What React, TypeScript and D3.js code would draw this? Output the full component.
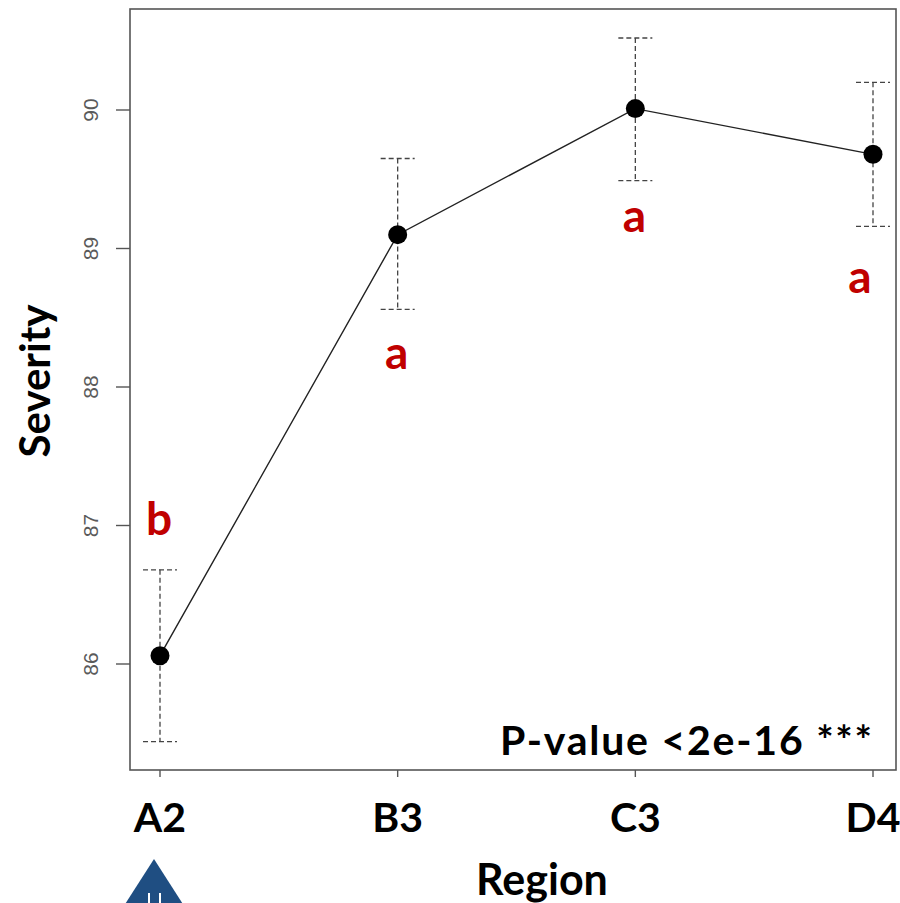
import React, { useEffect } from "react"
import * as d3 from "d3"

const regions = ["A2", "B3", "C3", "D4"]
const severity = [86.06, 89.1, 90.01, 89.68]
const upper = [86.68, 89.65, 90.52, 90.2]
const lower = [85.44, 88.56, 89.49, 89.16]
const groups = ["b", "a", "a", "a"]
// baseline of each group letter, in severity units
const groupAt = [86.93, 88.13, 89.12, 88.68]
const yTicks = [86, 87, 88, 89, 90]
const pText = "P-value <2e-16 ***"

const W = 900
const H = 903
const box = { left: 130, right: 896, top: 9, bottom: 770 }
const boldFont = "Lato, 'Open Sans', sans-serif"

export default function App() {
    useEffect(() => {
        document.body.style.margin = "0"
    }, [])

    const x = d3.scalePoint<string>().domain(regions).range([160, 873])
    const y = d3.scaleLinear().domain([86, 90]).range([664, 110])

    const pts = regions.map((r, i) => [x(r) as number, y(severity[i])] as [number, number])
    const line = d3.line()(pts) || ""

    const grey = "#444"
    const capW = 17

    return (
        <svg width={W} height={H} style={{ display: "block", background: "#fff" }}>
            {/* plot box */}
            <rect
                x={box.left}
                y={box.top}
                width={box.right - box.left}
                height={box.bottom - box.top}
                fill="none"
                stroke="#555"
                strokeWidth={1.6}
            />
            {/* y ticks */}
            {yTicks.map(t => (
                <g key={t}>
                    <line x1={box.left - 14} x2={box.left} y1={y(t)} y2={y(t)} stroke="#555" strokeWidth={1.4} />
                    <text
                        transform={`translate(98,${y(t)}) rotate(-90)`}
                        textAnchor="middle"
                        fontFamily="'Liberation Sans', Arial, sans-serif"
                        fontSize={21}
                        fill="#5a5a5a"
                    >
                        {t}
                    </text>
                </g>
            ))}
            {/* x ticks and labels */}
            {regions.map(r => (
                <g key={r}>
                    <line x1={x(r)} x2={x(r)} y1={box.bottom} y2={box.bottom + 7} stroke="#555" strokeWidth={1.4} />
                    <text
                        x={x(r)}
                        y={832}
                        textAnchor="middle"
                        fontFamily={boldFont}
                        fontWeight="bold"
                        fontSize={41}
                        fill="#000"
                    >
                        {r}
                    </text>
                </g>
            ))}
            <text x={542} y={895} textAnchor="middle" fontFamily={boldFont} fontWeight="bold" fontSize={43} fill="#000">
                Region
            </text>
            <text
                transform="translate(50,381) rotate(-90)"
                textAnchor="middle"
                fontFamily={boldFont}
                fontWeight="bold"
                fontSize={42}
                fill="#000"
            >
                Severity
            </text>

            {/* error bars */}
            {regions.map((r, i) => {
                const cx = x(r) as number
                return (
                    <g key={"e" + r} stroke={grey} strokeWidth={1.3} strokeDasharray="5,3" fill="none">
                        <line x1={cx} x2={cx} y1={y(upper[i])} y2={y(lower[i])} />
                        <line x1={cx - capW} x2={cx + capW} y1={y(upper[i])} y2={y(upper[i])} />
                        <line x1={cx - capW} x2={cx + capW} y1={y(lower[i])} y2={y(lower[i])} />
                    </g>
                )
            })}

            <path d={line} fill="none" stroke="#222" strokeWidth={1.4} />
            {pts.map((p, i) => (
                <circle key={"p" + i} cx={p[0]} cy={p[1]} r={9.5} fill="#000" />
            ))}

            {/* significance letters */}
            {groups.map((g, i) => (
                <text
                    key={"g" + i}
                    x={(x(regions[i]) as number) + (i === 3 ? -13 : -1)}
                    y={y(groupAt[i])}
                    textAnchor="middle"
                    fontFamily={boldFont}
                    fontWeight="bold"
                    fontSize={46}
                    fill="#c00000"
                >
                    {g}
                </text>
            ))}

            <text
                x={500}
                y={755}
                textLength={372}
                lengthAdjust="spacing"
                fontFamily={boldFont}
                fontWeight="bold"
                fontSize={41}
                fill="#000"
            >
                {pText}
            </text>

            {/* blue arrow under A2 */}
            <polygon points="154,859 188,912 120,912" fill="#1f4e82" />
            <rect x={148} y={893} width={2} height={12} fill="#fff" />
            <rect x={159} y={893} width={2} height={12} fill="#fff" />
        </svg>
    )
}
